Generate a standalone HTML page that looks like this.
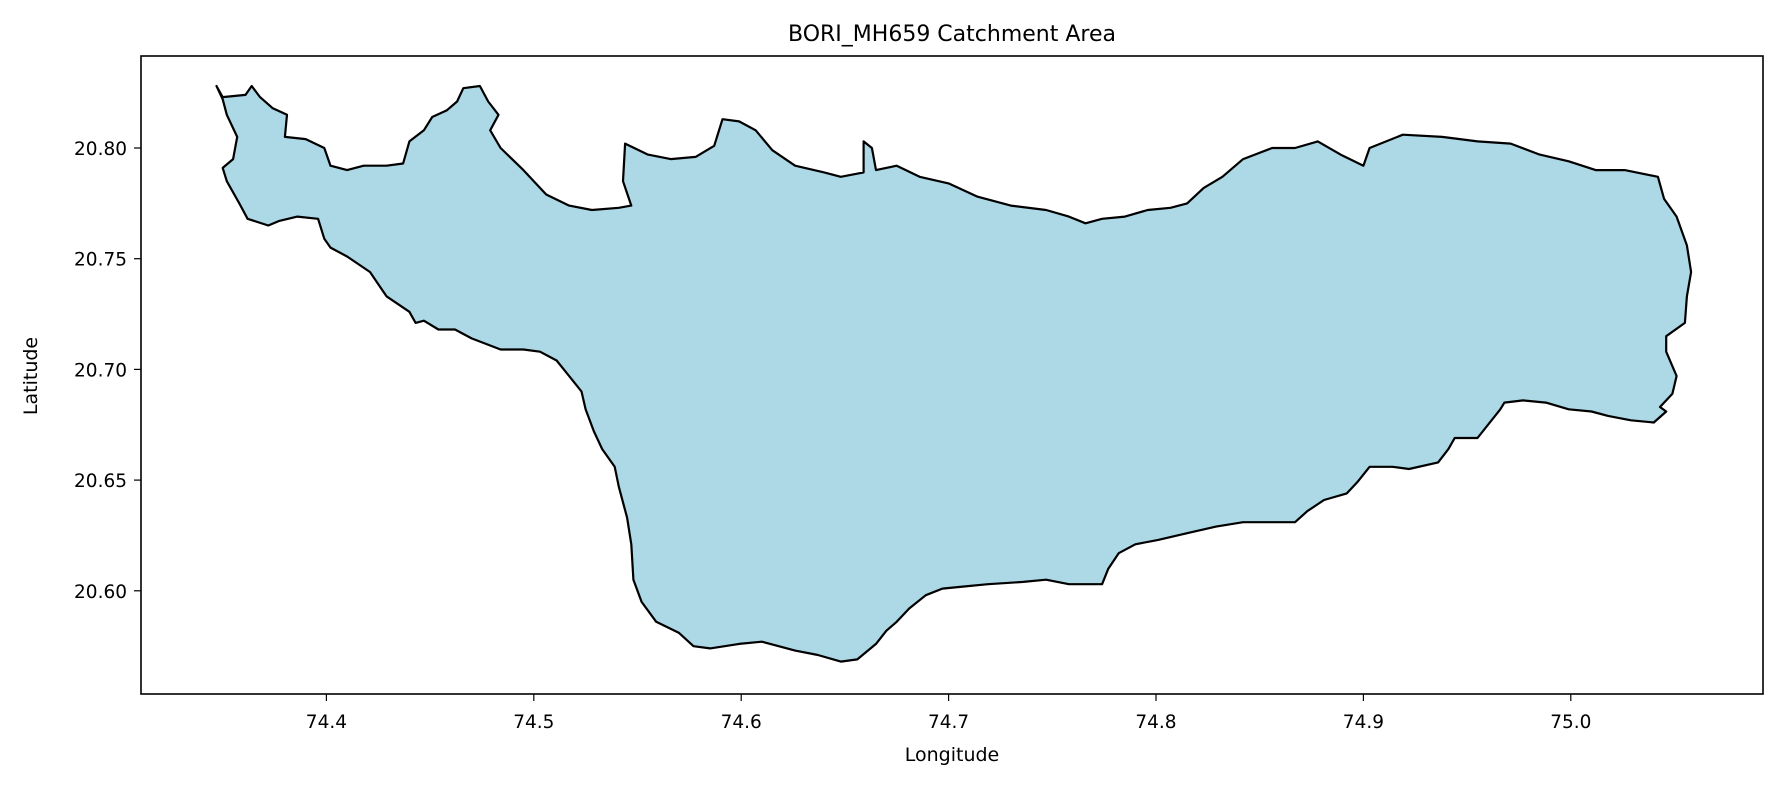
<!DOCTYPE html>
<html><head><meta charset="utf-8"><style>
html,body{margin:0;padding:0;background:#fff;}
svg{display:block;font-family:"DejaVu Sans","Liberation Sans",sans-serif;}
</style></head><body>
<svg id="chart" width="1781" height="787" viewBox="0 0 1781 787">
<text x="952" y="41" text-anchor="middle" font-size="22" fill="#000">BORI_MH659 Catchment Area</text>
<g id="plot"></g>
<rect x="141" y="56" width="1622" height="638" fill="none" stroke="#000" stroke-width="1.6"/>
<text x="952" y="761" text-anchor="middle" font-size="19" fill="#000">Longitude</text>
<text transform="translate(37,376) rotate(-90)" text-anchor="middle" font-size="19" fill="#000">Latitude</text>
</svg>
<script>
const xTicks = [74.4, 74.5, 74.6, 74.7, 74.8, 74.9, 75.0];
const xTickLabels = ["74.4","74.5","74.6","74.7","74.8","74.9","75.0"];
const yTicks = [20.60, 20.65, 20.70, 20.75, 20.80];
const yTickLabels = ["20.60","20.65","20.70","20.75","20.80"];
const boundaryLon = [74.347,74.350,74.361,74.364,74.368,74.374,74.381,74.380,74.390,74.399,74.402,74.410,74.418,74.429,74.437,74.440,74.447,74.451,74.458,74.463,74.466,74.474,74.478,74.483,74.479,74.484,74.495,74.506,74.517,74.528,74.541,74.547,74.543,74.544,74.555,74.566,74.578,74.587,74.591,74.599,74.607,74.615,74.626,74.640,74.648,74.659,74.659,74.663,74.665,74.675,74.686,74.700,74.714,74.730,74.747,74.758,74.766,74.774,74.785,74.796,74.807,74.815,74.823,74.832,74.842,74.856,74.867,74.878,74.889,74.900,74.903,74.919,74.938,74.955,74.971,74.985,74.999,75.012,75.026,75.042,75.045,75.051,75.056,75.058,75.056,75.055,75.046,75.046,75.051,75.049,75.043,75.046,75.040,75.029,75.018,75.010,74.999,74.988,74.977,74.968,74.966,74.955,74.944,74.941,74.936,74.922,74.914,74.903,74.897,74.892,74.881,74.873,74.867,74.856,74.842,74.829,74.815,74.801,74.790,74.782,74.777,74.774,74.758,74.747,74.736,74.719,74.708,74.697,74.689,74.681,74.675,74.670,74.665,74.656,74.648,74.637,74.626,74.610,74.599,74.585,74.577,74.570,74.559,74.552,74.548,74.547,74.545,74.541,74.539,74.533,74.529,74.525,74.523,74.517,74.511,74.503,74.495,74.484,74.470,74.462,74.454,74.447,74.443,74.440,74.429,74.421,74.410,74.402,74.399,74.396,74.386,74.377,74.372,74.362,74.358,74.352,74.350,74.355,74.357,74.352,74.350];
const boundaryLat = [20.828,20.823,20.824,20.828,20.823,20.818,20.815,20.805,20.804,20.800,20.792,20.790,20.792,20.792,20.793,20.803,20.808,20.814,20.817,20.821,20.827,20.828,20.821,20.815,20.808,20.800,20.790,20.779,20.774,20.772,20.773,20.774,20.785,20.802,20.797,20.795,20.796,20.801,20.813,20.812,20.808,20.799,20.792,20.789,20.787,20.789,20.803,20.800,20.790,20.792,20.787,20.784,20.778,20.774,20.772,20.769,20.766,20.768,20.769,20.772,20.773,20.775,20.782,20.787,20.795,20.800,20.800,20.803,20.797,20.792,20.800,20.806,20.805,20.803,20.802,20.797,20.794,20.790,20.790,20.787,20.777,20.769,20.756,20.744,20.733,20.721,20.715,20.708,20.697,20.689,20.683,20.681,20.676,20.677,20.679,20.681,20.682,20.685,20.686,20.685,20.682,20.669,20.669,20.664,20.658,20.655,20.656,20.656,20.649,20.644,20.641,20.636,20.631,20.631,20.631,20.629,20.626,20.623,20.621,20.617,20.610,20.603,20.603,20.605,20.604,20.603,20.602,20.601,20.598,20.592,20.586,20.582,20.576,20.569,20.568,20.571,20.573,20.577,20.576,20.574,20.575,20.581,20.586,20.595,20.605,20.621,20.633,20.647,20.656,20.664,20.672,20.682,20.690,20.697,20.704,20.708,20.709,20.709,20.714,20.718,20.718,20.722,20.721,20.726,20.733,20.744,20.751,20.755,20.759,20.768,20.769,20.767,20.765,20.768,20.775,20.785,20.791,20.795,20.805,20.815,20.822];

const NS = "http://www.w3.org/2000/svg";
function xScale(lon){ return 326.4 + (lon - 74.4) * 2074; }
function yScale(lat){ return 148 + (20.8 - lat) * 2214; }
const svg = document.getElementById('chart');
const plot = document.getElementById('plot');

let d = "";
for (let i = 0; i < boundaryLon.length; i++) {
  d += (i ? "L" : "M") + xScale(boundaryLon[i]).toFixed(1) + "," + yScale(boundaryLat[i]).toFixed(1);
}
d += "Z";
const poly = document.createElementNS(NS, "path");
poly.setAttribute("d", d);
poly.setAttribute("fill", "#add8e6");
poly.setAttribute("stroke", "#000");
poly.setAttribute("stroke-width", "2.2");
poly.setAttribute("stroke-linejoin", "round");


plot.appendChild(poly);

xTicks.forEach((v, i) => {
  const x = xScale(v);
  const t = document.createElementNS(NS, "line");
  t.setAttribute("x1", x); t.setAttribute("x2", x);
  t.setAttribute("y1", 694); t.setAttribute("y2", 701);
  t.setAttribute("stroke", "#000"); t.setAttribute("stroke-width", "1.2");
  
  
  svg.appendChild(t);
  const lb = document.createElementNS(NS, "text");
  lb.setAttribute("x", x); lb.setAttribute("y", 728);
  lb.setAttribute("text-anchor", "middle"); lb.setAttribute("font-size", "18.5");
  lb.textContent = xTickLabels[i];
  
  
  svg.appendChild(lb);
});
yTicks.forEach((v, i) => {
  const y = yScale(v);
  const t = document.createElementNS(NS, "line");
  t.setAttribute("x1", 134); t.setAttribute("x2", 141);
  t.setAttribute("y1", y); t.setAttribute("y2", y);
  t.setAttribute("stroke", "#000"); t.setAttribute("stroke-width", "1.2");
  
  
  svg.appendChild(t);
  const lb = document.createElementNS(NS, "text");
  lb.setAttribute("x", 127); lb.setAttribute("y", y + 7);
  lb.setAttribute("text-anchor", "end"); lb.setAttribute("font-size", "18.5");
  lb.textContent = yTickLabels[i];
  
  
  svg.appendChild(lb);
});
</script>
</body></html>
